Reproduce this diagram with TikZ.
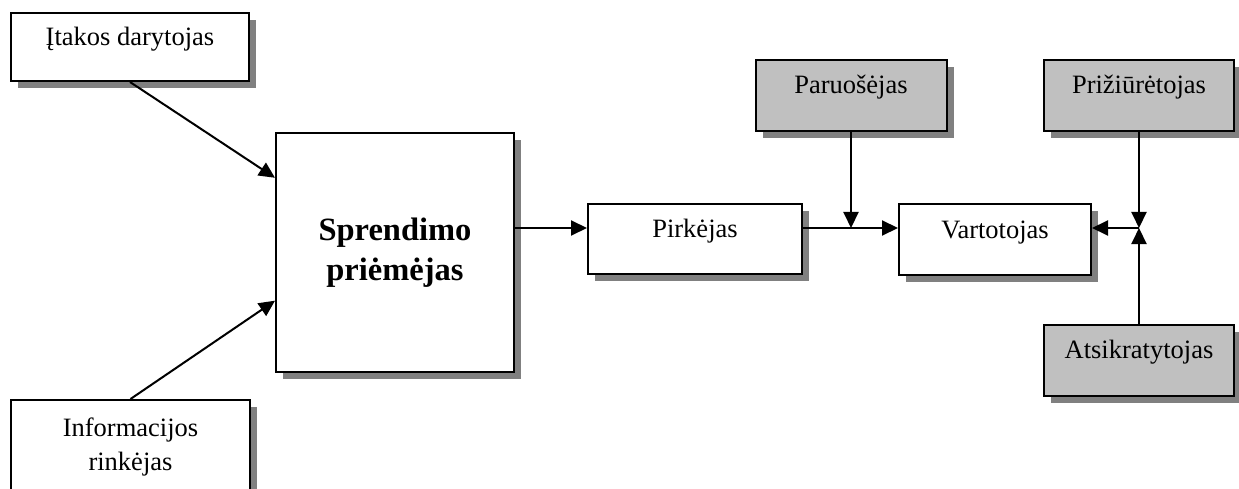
\documentclass[tikz,border=0pt]{standalone}
\usepackage{fontspec}
\setmainfont{Liberation Serif}
\usetikzlibrary{positioning,arrows.meta,shadows,calc}
\definecolor{boxgray}{RGB}{192,192,192}
\definecolor{shadowgray}{RGB}{128,128,128}

\begin{document}
\begin{tikzpicture}[
        x=1pt, y=-1pt,
        box/.style={draw, line width=2pt, fill=white, inner ysep=0pt,
                text height=18pt, text depth=21pt,
                font=\fontsize{26.5}{34}\selectfont,
                drop shadow={shadow xshift=7pt, shadow yshift=-7pt, fill=shadowgray, opacity=1}},
        greybox/.style={box, fill=boxgray},
        link/.style={-{Triangle[length=16pt, width=15pt]}, line width=2pt}
    ]
    \clip (0,0) rectangle (1239,489);

    % Left side
    \node[box, minimum width=238pt, minimum height=68pt] (itak) at (130,47) {Įtakos darytojas};
    \node[box, minimum width=239pt, minimum height=94pt, align=center,
          text height=, text depth=] (info) at (130.5,447) {Informacijos\\rinkėjas};

    % Decision maker
    \node[box, minimum width=238pt, minimum height=239pt, align=center,
          text height=, text depth=, font=\fontsize{32.5}{40}\selectfont\bfseries]
          (spr) at (395,252.5) {Sprendimo\\priėmėjas};

    % Chain
    \node[box, minimum width=214pt, minimum height=70pt] (pir) at (695,239) {Pirkėjas};
    \node[box, minimum width=192pt, minimum height=71pt] (var) at (995,239.5) {Vartotojas};

    % Grey roles
    \node[greybox, minimum width=191pt, minimum height=71pt] (par) at (851,95.5) {Paruošėjas};
    \node[greybox, minimum width=190pt, minimum height=71pt] (pri) at (1139,95.5) {Prižiūrėtojas};
    \node[greybox, minimum width=190pt, minimum height=71pt] (ats) at (1139,360) {Atsikratytojas};

    % Connections
    \coordinate (axis) at (0,228);
    \coordinate (j1) at (par.south |- axis);
    \coordinate (j2) at (pri.south |- axis);
    \draw[link] (itak.south) -- ($(spr.north west)!0.19!(spr.south west)$);
    \draw[link] (info.north) -- ($(spr.north west)!0.70!(spr.south west)$);
    \draw[link] (spr.east |- axis) -- (pir.west |- axis);
    \draw[link] (pir.east |- axis) -- (var.west |- axis);
    \draw[link] (par.south) -- (j1);
    \draw[link] (pri.south) -- (j2);
    \draw[link] (ats.north) -- (j2);
    \draw[link] (j2) -- (var.east |- axis);

\end{tikzpicture}
\end{document}
